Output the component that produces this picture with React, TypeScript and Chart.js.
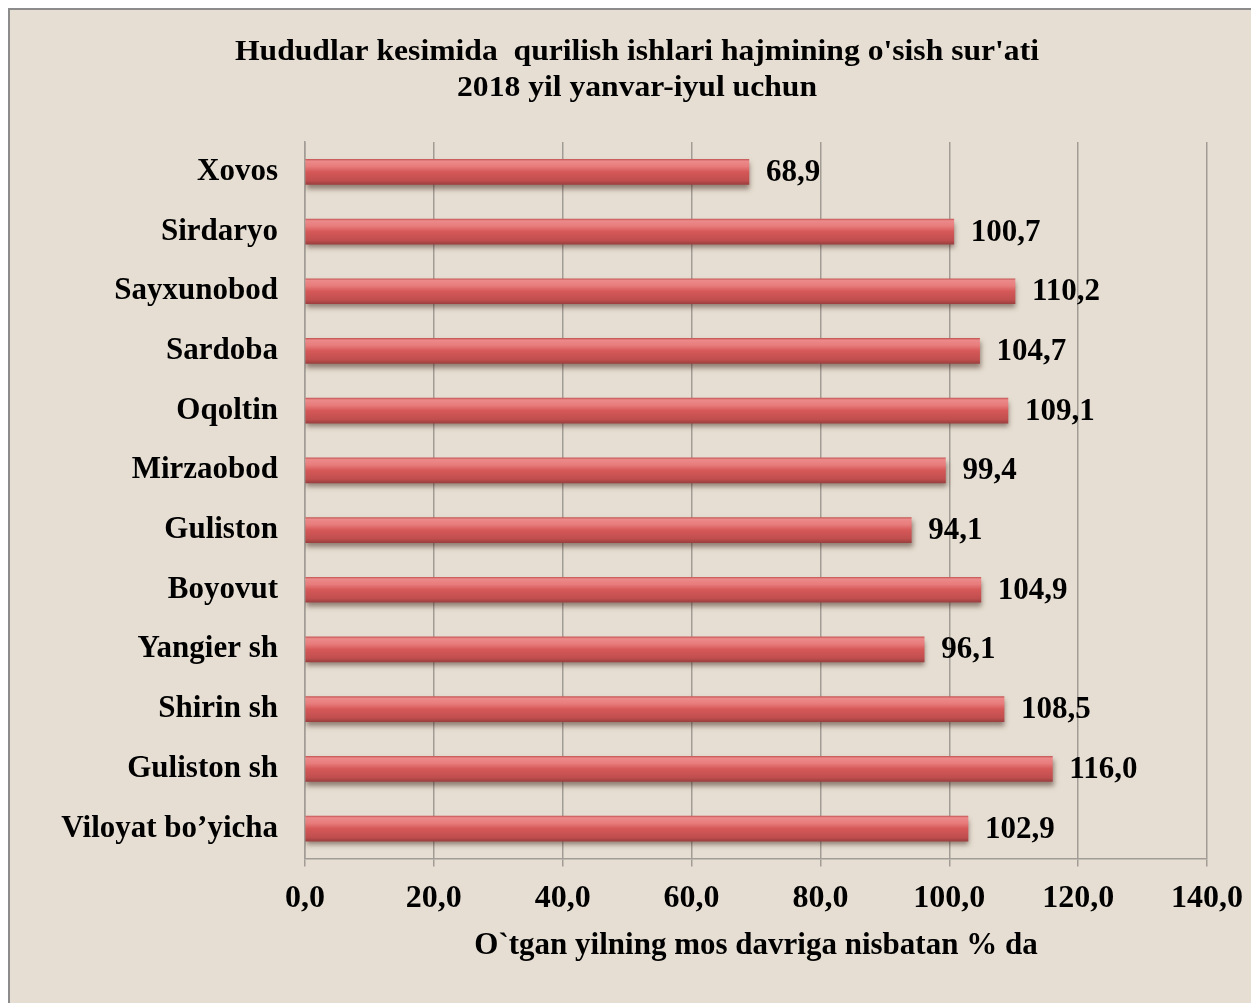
import React, { useEffect, useRef } from "react";
import { Chart, registerables } from "chart.js";

Chart.register(...registerables);

const categories = [
  "Xovos",
  "Sirdaryo",
  "Sayxunobod",
  "Sardoba",
  "Oqoltin",
  "Mirzaobod",
  "Guliston",
  "Boyovut",
  "Yangier sh",
  "Shirin sh",
  "Guliston sh",
  "Viloyat bo\u2019yicha",
];
const values = [68.9, 100.7, 110.2, 104.7, 109.1, 99.4, 94.1, 104.9, 96.1, 108.5, 116.0, 102.9];
const titleLines = [
  "Hududlar kesimida  qurilish ishlari hajmining o'sish sur'ati",
  "2018 yil yanvar-iyul uchun",
];
const xAxisTitle = "O`tgan yilning mos davriga nisbatan % da";
const xMin = 0;
const xMax = 140;
const xStep = 20;

const FONT = '"Liberation Serif", "Times New Roman", serif';
const fmt = (v: number) => v.toFixed(1).replace(".", ",");

const titlePlugin = {
  id: "customTitle",
  afterDraw(chart: any) {
    const ctx = chart.ctx;
    ctx.save();
    ctx.font = `bold 29px ${FONT}`;
    ctx.fillStyle = "#000";
    ctx.textAlign = "center";
    ctx.textBaseline = "alphabetic";
    const w1 = ctx.measureText(titleLines[0]).width;
    const sx = 804 / w1;
    const cx = 627;
    const baselines = [50, 86];
    titleLines.forEach((line, i) => {
      ctx.save();
      ctx.translate(cx, baselines[i]);
      ctx.scale(sx, 1);
      ctx.fillText(line, 0, 0);
      ctx.restore();
    });
    ctx.restore();
  },
};

const shadowPlugin = {
  id: "barShadow",
  beforeDatasetDraw(chart: any) {
    const ctx = chart.ctx;
    ctx.save();
    ctx.shadowColor = "rgba(60,30,20,0.5)";
    ctx.shadowBlur = 5;
    ctx.shadowOffsetX = 1;
    ctx.shadowOffsetY = 4;
  },
  afterDatasetDraw(chart: any) {
    chart.ctx.restore();
  },
};

const valueLabelPlugin = {
  id: "valueLabels",
  afterDatasetsDraw(chart: any) {
    const ctx = chart.ctx;
    const meta = chart.getDatasetMeta(0);
    ctx.save();
    ctx.font = `bold 31px ${FONT}`;
    ctx.fillStyle = "#000";
    ctx.textAlign = "left";
    ctx.textBaseline = "middle";
    meta.data.forEach((bar: any, i: number) => {
      ctx.fillText(fmt(values[i]), bar.x + 17, bar.y + 1);
    });
    ctx.restore();
  },
};

export default function App() {
  const ref = useRef<HTMLCanvasElement>(null);

  useEffect(() => {
    if (!ref.current) return;
    const chart = new Chart(ref.current, {
      type: "bar",
      data: {
        labels: categories,
        datasets: [
          {
            data: values,
            barThickness: 25,
            borderWidth: 0,
            backgroundColor: (c: any) => {
              const ch = c.chart;
              const ys = ch.scales && ch.scales.y;
              if (!ys || c.dataIndex === undefined) return "#d65656";
              const y = ys.getPixelForValue(c.dataIndex);
              if (!Number.isFinite(y)) return "#d65656";
              const g = ch.ctx.createLinearGradient(0, y - 12.5, 0, y + 12.5);
              g.addColorStop(0, "#c85a5a");
              g.addColorStop(0.07, "#ec8a8a");
              g.addColorStop(0.28, "#e87c7c");
              g.addColorStop(0.5, "#d65858");
              g.addColorStop(0.85, "#c04e4e");
              g.addColorStop(1, "#9c3f3f");
              return g;
            },
          },
        ],
      },
      options: {
        indexAxis: "y",
        responsive: false,
        animation: false,
        layout: { padding: { top: 132, left: 0, right: 44, bottom: 38 } },
        plugins: {
          legend: { display: false },
          title: { display: false },
          tooltip: { enabled: false },
        },
        scales: {
          x: {
            min: xMin,
            max: xMax,
            grid: { color: "#a29c96", lineWidth: 1.5, tickLength: 8, drawTicks: true },
            border: { display: true, color: "#a29c96", width: 1.5 },
            ticks: {
              stepSize: xStep,
              color: "#000",
              padding: 13,
              font: { family: FONT, size: 32, weight: "bold" },
              callback: (v: any) => fmt(Number(v)),
            },
            title: {
              display: true,
              text: xAxisTitle,
              color: "#000",
              font: { family: FONT, size: 31, weight: "bold" },
              padding: { top: -3, bottom: 0 },
            },
            afterFit: (s: any) => {
              s.paddingLeft = 0;
              s.paddingRight = 0;
            },
          },
          y: {
            grid: { display: false },
            border: { display: true, color: "#a29c96", width: 1.5 },
            ticks: {
              color: "#000",
              padding: 19,
              font: { family: FONT, size: 31, weight: "bold" },
            },
            afterFit: (s: any) => {
              s.width = 295;
            },
          },
        },
      },
      plugins: [titlePlugin, shadowPlugin, valueLabelPlugin],
    });
    return () => chart.destroy();
  }, []);

  return (
    <div
      style={{
        position: "fixed",
        left: 8,
        top: 8,
        borderTop: "2px solid #8c8c8c",
        borderLeft: "2px solid #8c8c8c",
        background: "#e6ded2",
      }}
    >
      <canvas ref={ref} width={1241} height={993} style={{ display: "block" }} />
    </div>
  );
}
